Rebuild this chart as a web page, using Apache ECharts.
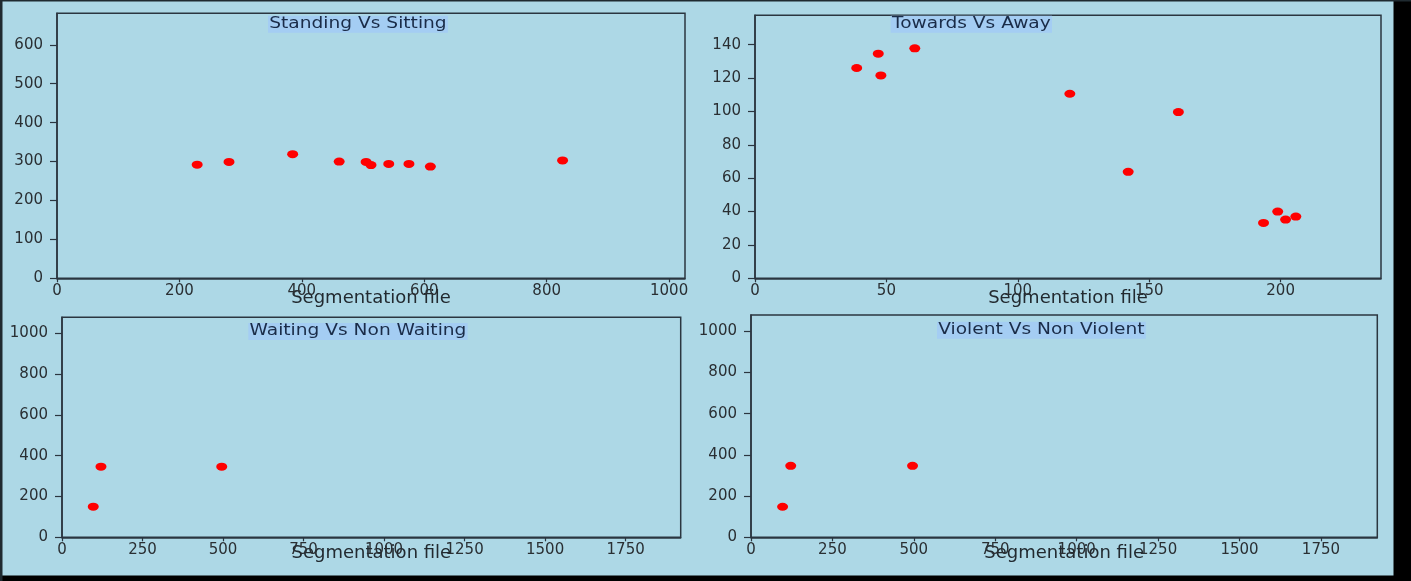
<!DOCTYPE html>
<html>
<head>
<meta charset="utf-8">
<script src="https://cdn.jsdelivr.net/npm/echarts@6/dist/echarts.min.js"></script>
<style>
  html, body { margin: 0; padding: 0; background: #add8e6; }
  #chart { width: 1411px; height: 581px; }
</style>
</head>
<body>
<div id="chart"></div>
<script>
// ---- Data ----
const titles = ['Standing Vs Sitting', 'Towards Vs Away', 'Waiting Vs Non Waiting', 'Violent Vs Non Violent'];
const xAxisName = 'Segmentation file';

const standingX = [229, 281, 385, 461, 505, 513, 542, 575, 610, 826];
const standingY = [292, 299, 319, 300, 299, 291, 294, 294, 287, 303];

const towardsX = [38.7, 46.9, 47.9, 60.8, 119.8, 142, 161.1, 193.5, 198.9, 201.9, 205.8];
const towardsY = [126, 134.6, 121.6, 137.8, 110.6, 63.8, 99.6, 33.2, 40, 35.2, 37];

const waitingX = [97, 121, 496];
const waitingY = [150, 346, 346];

const violentX = [97, 122, 496];
const violentY = [148.5, 347, 347];

const standingXTicks = [0, 200, 400, 600, 800, 1000];
const standingYTicks = [0, 100, 200, 300, 400, 500, 600];
const towardsXTicks = [0, 50, 100, 150, 200];
const towardsYTicks = [0, 20, 40, 60, 80, 100, 120, 140];
const bottomXTicks = [0, 250, 500, 750, 1000, 1250, 1500, 1750];
const bottomYTicks = [0, 200, 400, 600, 800, 1000];

// ---- Styling / layout ----
const FONT = 'DejaVu Sans';
const AXIS_COLOR = '#2b3640';
const LABEL_COLOR = '#2a2f33';

const panels = [
  { grid: { left: 57, top: 13.3, width: 628, height: 265 }, xMax: 1026, yMax: 681,
    xTicks: standingXTicks, yTicks: standingYTicks, xs: standingX, ys: standingY, nameGap: 11.5,
    title: { x: 268, y: 15.7 } },
  { grid: { left: 755, top: 15.3, width: 626, height: 263 }, xMax: 238.2, yMax: 157.6,
    xTicks: towardsXTicks, yTicks: towardsYTicks, xs: towardsX, ys: towardsY, nameGap: 11.5,
    title: { x: 890.7, y: 15.7 } },
  { grid: { left: 62, top: 317.3, width: 618.7, height: 220 }, xMax: 1921, yMax: 1078,
    xTicks: bottomXTicks, yTicks: bottomYTicks, xs: waitingX, ys: waitingY, nameGap: 7.5,
    title: { x: 248.3, y: 323 } },
  { grid: { left: 751, top: 315, width: 626.3, height: 222.3 }, xMax: 1923, yMax: 1079,
    xTicks: bottomXTicks, yTicks: bottomYTicks, xs: violentX, ys: violentY, nameGap: 7.5,
    title: { x: 937, y: 321.7 } }
];

const plain = v => String(v);
const grids = [], xAxes = [], yAxes = [], series = [], graphics = [];

panels.forEach((p, i) => {
  grids.push(Object.assign({
    show: true, borderColor: AXIS_COLOR, borderWidth: 1.5, backgroundColor: 'transparent',
    containLabel: false, outerBoundsMode: 'none'
  }, p.grid));
  xAxes.push({
    gridIndex: i, type: 'value', min: 0, max: p.xMax,
    name: xAxisName, nameLocation: 'middle', nameGap: p.nameGap, nameMoveOverlap: false,
    nameTextStyle: { fontFamily: FONT, fontSize: 18, color: '#222a30', verticalAlign: 'top' },
    axisLine: { show: true, onZero: false, lineStyle: { color: AXIS_COLOR, width: 1.5 } },
    axisTick: { show: true, length: 4, customValues: p.xTicks, lineStyle: { color: AXIS_COLOR, width: 1.2 } },
    axisLabel: { show: true, customValues: p.xTicks, formatter: plain, margin: 5, fontFamily: FONT, fontSize: 15, color: LABEL_COLOR },
    splitLine: { show: false }
  });
  yAxes.push({
    gridIndex: i, type: 'value', min: 0, max: p.yMax,
    axisLine: { show: true, onZero: false, lineStyle: { color: AXIS_COLOR, width: 1.5 } },
    axisTick: { show: true, length: 7, customValues: p.yTicks, lineStyle: { color: AXIS_COLOR, width: 1.2 } },
    axisLabel: { show: true, customValues: p.yTicks, formatter: plain, margin: 14, fontFamily: FONT, fontSize: 15, color: LABEL_COLOR },
    splitLine: { show: false }
  });
  series.push({
    type: 'scatter', xAxisIndex: i, yAxisIndex: i,
    data: p.xs.map((x, k) => [x, p.ys[k]]),
    symbol: 'circle', symbolSize: [11, 8],
    itemStyle: { color: '#ff0000', opacity: 1 },
    emphasis: { disabled: true }
  });
  graphics.push({
    type: 'text', x: p.title.x, y: p.title.y, scaleX: 1.24, silent: true, z: 10,
    style: {
      text: titles[i], fontFamily: FONT, fontSize: 15, fill: '#1a2c48',
      backgroundColor: '#a4cdf3', padding: [1, 1, 1, 1], verticalAlign: 'top', align: 'left'
    }
  });
});

// outer frame
graphics.push(
  { type: 'rect', silent: true, z: 20, shape: { x: 1393.5, y: 0, width: 18, height: 581 }, style: { fill: '#000' } },
  { type: 'rect', silent: true, z: 20, shape: { x: 0, y: 575.5, width: 1411, height: 6 }, style: { fill: '#000' } },
  { type: 'rect', silent: true, z: 20, shape: { x: 0, y: 0, width: 1411, height: 1.5 }, style: { fill: '#1f2a30' } },
  { type: 'rect', silent: true, z: 20, shape: { x: 0, y: 0, width: 2.5, height: 581 }, style: { fill: '#1f2a30' } }
);

const chart = echarts.init(document.getElementById('chart'), null, { renderer: 'canvas' });
chart.setOption({
  backgroundColor: '#add8e6',
  animation: false,
  grid: grids,
  xAxis: xAxes,
  yAxis: yAxes,
  series: series,
  graphic: graphics
});
</script>
</body>
</html>
